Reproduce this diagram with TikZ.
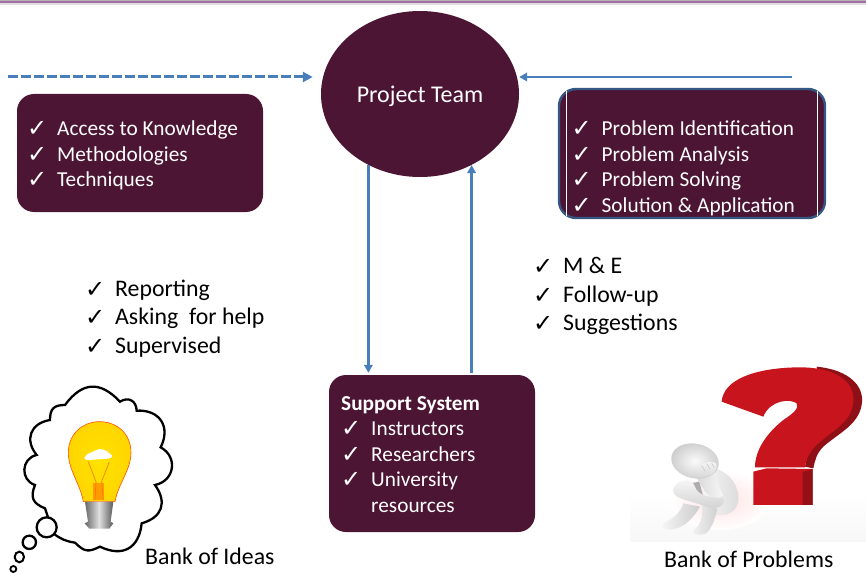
\documentclass[tikz,border=0pt]{standalone}
\usepackage{fontspec}
\setmainfont{Carlito}
\newfontfamily\chkfont{DejaVu Sans}
\usetikzlibrary{arrows.meta,shapes.geometric}
\definecolor{plum}{HTML}{4C1533}
\definecolor{linkblue}{HTML}{4A7EBB}
\definecolor{qfront}{HTML}{C8141C}
\definecolor{qside}{HTML}{8E1016}
\definecolor{glowa}{HTML}{FFE200}
\definecolor{glowb}{HTML}{FFD400}
\definecolor{glowc}{HTML}{FF9C00}
\definecolor{glowd}{HTML}{FF5000}
\definecolor{glowe}{HTML}{D8300C}
\pgfdeclareradialshading{bulbglow}{\pgfpoint{0bp}{0bp}}{
  color(0bp)=(glowa);
  color(28bp)=(glowb);
  color(40bp)=(glowc);
  color(47bp)=(glowd);
  color(50bp)=(glowe);
  color(100bp)=(glowe)}
\newcommand{\ck}{\makebox[30pt][l]{\smash{\raisebox{-1pt}{\fontsize{24}{24}\chkfont\char"2713}}}}
\newcommand{\smallfs}{\fontsize{21.3}{25.5}\selectfont}
\newcommand{\largefs}{\fontsize{23.8}{28.2}\selectfont}
\tikzset{
  x=1pt,y=-1pt,
  card/.style={fill=plum,rounded corners=17pt,inner sep=0pt,draw=none},
  inlist/.style={text=white,anchor=north west,inner sep=0pt,align=left,font=\smallfs},
  outlist/.style={text=black,anchor=north west,inner sep=0pt,align=left,font=\largefs},
  caption/.style={text=black,anchor=base west,inner sep=0pt,font=\fontsize{23.8}{28}\selectfont},
  link/.style={draw=linkblue,line width=2.4pt,-{Triangle[length=8pt,width=8.5pt]}},
  outline/.style={line width=2.3pt,draw=black,fill=white,line join=miter},
  lobe/.style={bend left=#1,looseness=1.35}
}
\begin{document}
\begin{tikzpicture}
\useasboundingbox (0,0) rectangle (866,572);
% top rule
\fill[black!12] (0,3) rectangle (866,5);
\fill[top color=black!30,bottom color=black!30,middle color=magenta!45!black!70] (0,0) rectangle (866,3);

% main nodes
\node[ellipse,fill=plum,minimum width=198pt,minimum height=166pt,inner sep=0pt] (team) at (420,94) {};
\node[text=white,font=\fontsize{24}{28}\selectfont,inner sep=0pt] (teamlabel) at (420,96) {Project Team};
\node[card,minimum width=246pt,minimum height=118pt] (know) at (140,153) {};
\node[card,minimum width=266pt,minimum height=129pt,draw=linkblue!70!black,line width=2.4pt] (prob) at (692,153.5) {};
\draw[white,line width=1pt] (566,91) -- (566,216) (817,91) -- (817,216);
\node[card,minimum width=206pt,minimum height=157pt] (support) at (432,453.5) {};

% lists
\node[inlist] (knowl) at (27,121) {\ck{}Access to Knowledge\\\ck{}Methodologies\\\ck{}Techniques};
\node[inlist] (probl) at (571.5,121) {\ck{}Problem Identification\\\ck{}Problem Analysis\\\ck{}Problem Solving\\\ck{}Solution \& Application};
\node[inlist] (supl) at (341,396) {\textbf{Support System}\\\ck{}Instructors\\\ck{}Researchers\\\ck{}University\\\hspace*{30pt}resources};
\node[outlist] (rep) at (85,280) {\ck{}Reporting\\\ck{}Asking\ \ for help\\\ck{}Supervised};
\node[outlist] (me) at (533,257.5) {\ck{}M \& E\\\ck{}Follow-up\\\ck{}Suggestions};

% connectors
\coordinate (dashstart) at (8,77);
\coordinate (solidstart) at (792,77);
\draw[link,line width=3pt,dash pattern=on 10pt off 3pt,shorten >=8pt,-{Triangle[length=10pt,width=10pt]}] (dashstart) -- (dashstart -| team.west);
\draw[link,line width=2.8pt] (solidstart) -- (solidstart -| team.east);
\draw[link,shorten >=2pt] (team.-126) -- (team.-126 |- support.north);
\draw[link,shorten <=2pt] (team.-54 |- support.north) -- (team.-54);

% thought cloud (coordinates read at 3x)
\begin{scope}[shift={(0pt,-370pt)},x=.3333pt,y=-.3333pt]
\draw[outline] (135,415) to[lobe=45] (105,345) to[lobe=75] (110,255) to[lobe=60] (150,150) to[lobe=45] (195,105) to[lobe=50] (360,95) to[lobe=60] (410,122) to[lobe=60] (482,232) to[lobe=70] (465,345) to[lobe=55] (425,460) to[lobe=55] (300,530) to[lobe=35] (225,518) to[bend left=15] (160,490) -- cycle;
\draw[line width=2.3pt,fill=white] (140,472) circle (30);
\draw[line width=2.3pt] (88,517) circle (20);
\draw[line width=2pt] (58,561) ellipse (14 and 16);
\draw[line width=1.8pt] (40,597) circle (9);
% bulb
\draw[shading=bulbglow,draw=glowd,line width=.6pt]
 (250,395) .. controls (240,340) and (205,300) .. (205,248) .. controls (205,190) and (250,155) .. (298,155) .. controls (350,155) and (393,190) .. (393,248) .. controls (393,300) and (355,340) .. (345,395) -- cycle;
\draw[orange!80!brown,line width=.7pt] (265,275) -- (288,335) (328,275) -- (305,335) (288,335) -- (285,390) (305,335) -- (310,390);
\fill[orange!90!red,opacity=.6] (278,340) rectangle (312,390);
\fill[white] (253,264) .. controls (258,250) and (275,248) .. (285,242) .. controls (300,232) and (320,240) .. (328,250) .. controls (340,255) and (338,264) .. (325,266) -- (265,270) .. controls (258,270) and (253,268) .. (253,264) -- cycle;
\shade[left color=black!60,right color=black!65,middle color=black!12] (255,395) -- (340,395) -- (332,455) -- (340,460) -- (328,476) -- (268,476) -- (254,460) -- (264,455) -- cycle;
\end{scope}
\node[caption] (ideas) at (145,564) {Bank of Ideas};

% bank of problems picture (coordinates read at 3x)
\begin{scope}[shift={(620pt,-360pt)},x=.3333pt,y=-.3333pt]
\shade[top color=white,bottom color=red!5!black!3] (30,400) rectangle (738,545);
\shade[inner color=red!12,outer color=white] (300,420) ellipse (150 and 90);
\fill[qside] (590,20) .. controls (690,30) and (735,80) .. (725,135) .. controls (715,195) and (655,220) .. (610,260) .. controls (590,280) and (585,300) .. (580,325) -- (555,320) -- (600,100) -- cycle;
\fill[qfront] (305,125) .. controls (310,60) and (400,25) .. (530,22) .. controls (640,20) and (705,60) .. (700,125) .. controls (695,190) and (630,215) .. (590,255) .. controls (570,275) and (558,295) .. (555,322) -- (405,322) .. controls (405,270) and (440,220) .. (490,180) .. controls (520,160) and (538,145) .. (530,130) .. controls (510,115) and (450,120) .. (430,170) -- cycle;
\fill[qfront] (400,335) -- (440,325) -- (578,327) -- (578,435) -- (400,435) -- cycle;
\fill[qside!90!qfront] (548,336) -- (578,327) -- (578,435) -- (548,435) -- cycle;
\end{scope}
% person
\begin{scope}[shift={(660pt,-435pt)},x=.3333pt,y=-.3333pt]
\shade[left color=black!3,right color=black!14] (165,100) .. controls (215,115) and (240,160) .. (235,200) .. controls (225,245) and (180,245) .. (150,235) -- (120,140) -- cycle;
% far side and gap
\fill[black!32] (90,145) -- (118,140) -- (130,185) -- (95,185) -- cycle;
% legs
\shade[left color=black!3,right color=black!20] (70,205) .. controls (60,235) and (40,250) .. (15,262) .. controls (0,272) and (5,285) .. (40,283) .. controls (75,275) and (100,250) .. (120,215) -- cycle;
\shade[left color=black!4,right color=black!18] (125,205) .. controls (130,240) and (125,265) .. (105,282) .. controls (90,295) and (105,303) .. (135,297) .. controls (155,285) and (165,250) .. (172,222) -- cycle;
% folded arms
\shade[top color=black!3,bottom color=black!18] (60,140) .. controls (85,130) and (100,140) .. (105,155) .. controls (110,175) and (140,190) .. (175,185) .. controls (200,190) and (195,205) .. (180,215) .. controls (165,225) and (140,215) .. (110,205) .. controls (80,195) and (45,190) .. (40,170) .. controls (40,155) and (50,145) .. (60,140) -- cycle;
% raised arm
\shade[left color=black!15,right color=black!3] (108,125) -- (165,105) .. controls (172,130) and (175,160) .. (190,180) .. controls (175,195) and (155,190) .. (135,170) -- cycle;
% head and fist
\shade[inner color=black!2,outer color=black!20,rotate around={-12:(105,78)}] (105,78) ellipse (72 and 52);
\shade[top color=black!3,bottom color=black!16] (105,105) .. controls (115,85) and (150,75) .. (168,85) .. controls (175,105) and (160,120) .. (140,125) .. controls (125,130) and (105,125) .. (105,105) -- cycle;
\draw[black!25,line width=.5pt] (125,92) -- (135,108) (140,86) -- (150,102) (155,84) -- (163,98);
\end{scope}
\node[caption] (problems) at (664,567) {Bank of Problems};
\end{tikzpicture}
\end{document}
